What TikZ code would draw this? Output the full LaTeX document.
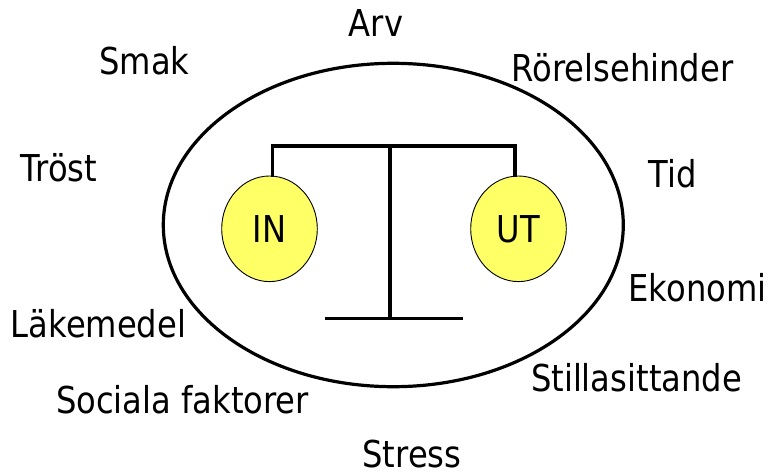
\documentclass[tikz,border=0pt]{standalone}
\usepackage{fontspec}
\setmainfont{DejaVu Sans}[FakeStretch=0.87]
\usetikzlibrary{shapes.geometric}
\definecolor{ballyellow}{HTML}{FFFF66}
\begin{document}
\begin{tikzpicture}[x=1pt,y=-1pt,
  lbl/.style={anchor=base, inner sep=0pt, font=\fontsize{37}{44}\selectfont},
  heavy/.style={line width=3.2pt},
  ball/.style={ellipse, draw=black, line width=0.9pt, fill=ballyellow,
    minimum width=95.6pt, minimum height=105.6pt, inner sep=0pt,
    font=\fontsize{37}{44}\selectfont}]
\useasboundingbox (0,0) rectangle (773,473);
% outer ellipse
\draw[heavy] (393.3,225) ellipse [x radius=230, y radius=161.7];
% balance
\coordinate (beamL) at (272.7,146);
\coordinate (beamR) at (515,146);
\coordinate (postTop) at (390,146);
\coordinate (postBot) at (390,318.3);
\coordinate (baseL) at (325,318.3);
\coordinate (baseR) at (463,318.3);
\node[ball] (in) at (269.5,228.8) {IN};
\node[ball] (ut) at (518.5,228.8) {UT};
\draw[heavy, line cap=rect] (beamL |- in.north) -- (beamL) -- (beamR) -- (beamR |- ut.north);
\draw[heavy] (postTop) -- (postBot);
\draw[heavy] (baseL) -- (baseR);
% labels
\node[lbl] (arv) at (376,37) {Arv};
\node[lbl] (smak) at (144.5,75) {Smak};
\node[lbl] (rorelse) at (622.5,82) {Rörelsehinder};
\node[lbl] (trost) at (59,182) {Tröst};
\node[lbl] (tid) at (673,187) {Tid};
\node[lbl] (ekonomi) at (697.5,301) {Ekonomi};
\node[lbl] (lakemedel) at (98.5,337) {Läkemedel};
\node[lbl] (still) at (636.5,391) {Stillasittande};
\node[lbl] (sociala) at (182.5,413) {Sociala faktorer};
\node[lbl] (stress) at (412,467) {Stress};
\end{tikzpicture}
\end{document}
